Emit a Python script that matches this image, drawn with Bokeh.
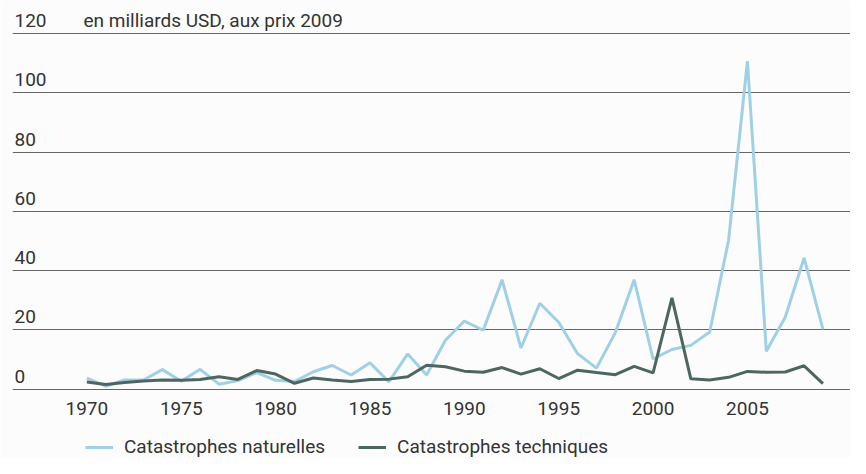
from bokeh.plotting import figure
from bokeh.models import Range1d, FixedTicker, Legend, LegendItem, ColumnDataSource, Grid
from bokeh.core.properties import value
from bokeh.embed import file_html
from bokeh.resources import INLINE

# ---- data ----
years = list(range(1970, 2010))
naturelles = [3.7, 1.0, 3.1, 3.1, 6.6, 2.7, 6.7, 1.7, 2.9, 5.6,
              3.0, 2.6, 5.9, 8.0, 4.8, 8.9, 2.5, 11.9, 4.8, 16.5,
              23.0, 19.9, 36.9, 13.9, 29.0, 22.6, 12.0, 7.1, 19.1, 36.9,
              10.2, 13.4, 14.8, 19.3, 50.3, 110.7, 12.8, 24.3, 44.3, 20.2]
techniques = [2.4, 1.6, 2.3, 2.8, 3.1, 3.0, 3.3, 4.2, 3.3, 6.3,
              5.1, 2.0, 3.8, 3.1, 2.6, 3.3, 3.4, 4.2, 8.1, 7.6,
              6.1, 5.7, 7.3, 5.1, 6.9, 3.6, 6.4, 5.6, 4.9, 7.7,
              5.5, 30.8, 3.5, 3.1, 4.0, 6.0, 5.7, 5.8, 7.9, 1.9]
x_ticks = [1970, 1975, 1980, 1985, 1990, 1995, 2000, 2005]
y_ticks = [0, 20, 40, 60, 80, 100, 120]
unit_label = "en milliards USD, aux prix 2009"
series_names = ["Catastrophes naturelles", "Catastrophes techniques"]

FONT = "Roboto"
FS = "19px"
TXT = "#333333"
BG = "#fcfcfc"
X0, X1 = 1966.06, 2010.46
Y0, Y1 = -23.39, 131.2

p = figure(width=850, height=458, output_backend="svg", toolbar_location=None,
           x_range=Range1d(X0, X1), y_range=Range1d(Y0, Y1),
           x_axis_location=None, y_axis_location=None,
           min_border_left=12, min_border_right=0, min_border_top=0, min_border_bottom=0,
           background_fill_color=BG, border_fill_color=BG)
p.outline_line_color = None
p.grid.visible = False
p.add_layout(Grid(dimension=1, ticker=FixedTicker(ticks=y_ticks),
                  grid_line_color="#666666", grid_line_width=1))

r1 = p.line(years, naturelles, line_color="#9fd0e5", line_width=3)
r2 = p.line(years, techniques, line_color="#4d6662", line_width=3)

# y tick labels, sitting above their grid lines at the left edge
ylab = ColumnDataSource(dict(x=[X0] * len(y_ticks), y=y_ticks, text=[str(v) for v in y_ticks]))
p.text(x="x", y="y", text="text", source=ylab, x_offset=2, y_offset=-13,
       text_baseline="middle", text_align="left",
       text_font=value(FONT), text_font_size=FS, text_color=TXT)
p.text(x=[X0], y=[y_ticks[-1]], text=[unit_label], x_offset=71, y_offset=-13,
       text_baseline="middle", text_align="left",
       text_font=value(FONT), text_font_size=FS, text_color=TXT)

# x tick labels below the zero line
xlab = ColumnDataSource(dict(x=x_ticks, y=[0] * len(x_ticks), text=[str(v) for v in x_ticks]))
p.text(x="x", y="y", text="text", source=xlab, y_offset=19,
       text_baseline="middle", text_align="center",
       text_font=value(FONT), text_font_size=FS, text_color=TXT)

legend = Legend(items=[LegendItem(label=series_names[0], renderers=[r1]),
                       LegendItem(label=series_names[1], renderers=[r2])],
                orientation="horizontal", location=(73, 0),
                border_line_color=None, background_fill_alpha=0,
                label_text_font=FONT, label_text_font_size=FS, label_text_color=TXT,
                glyph_width=28, label_standoff=11, spacing=33, padding=0, margin=0)
p.add_layout(legend)

open("out.html", "w").write(file_html(p, INLINE))
